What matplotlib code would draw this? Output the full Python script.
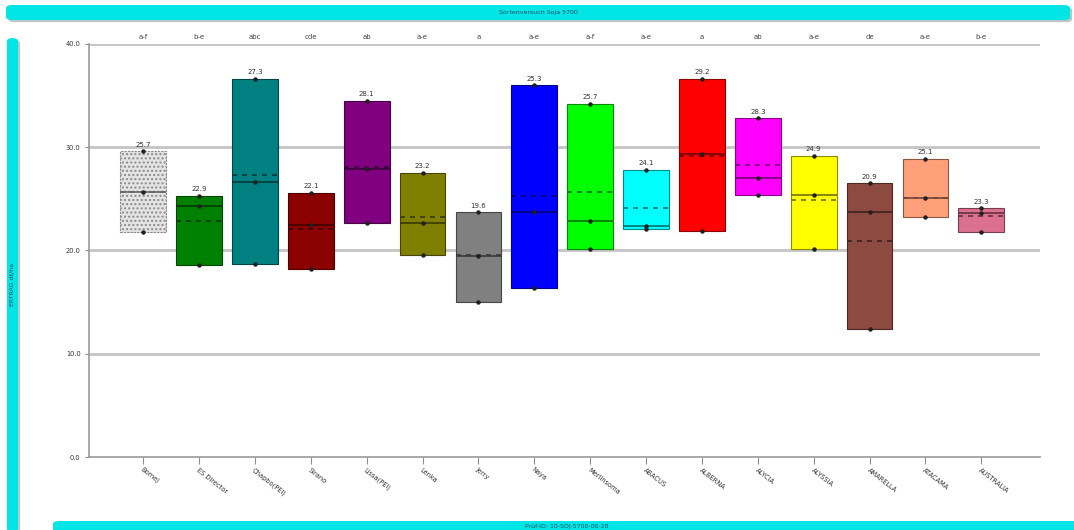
import matplotlib

matplotlib.use("Agg")
import matplotlib.pyplot as plt
import numpy as np
from matplotlib.colors import to_rgb
from matplotlib.patches import FancyBboxPatch

varieties = ["Bomej", "ES Director", "Chapbo(PEI)", "Sirano", "Lissa(PEI)", "Lenka",
             "Jerry", "Naya", "Merlinsoma", "ABACUS", "ALBERNA", "ALYCIA",
             "ALYSSIA", "AMARELLA", "ATACAMA", "AUSTRALIA"]
groups = ["a-f", "b-e", "abc", "cde", "ab", "a-e", "a", "a-e",
          "a-f", "a-e", "a", "ab", "a-e", "de", "a-e", "b-e"]
low = [21.8, 18.6, 18.7, 18.2, 22.7, 19.6, 15.0, 16.4, 20.1, 22.1, 21.9, 25.4, 20.1, 12.4, 23.2, 21.8]
high = [29.6, 25.3, 36.6, 25.6, 34.5, 27.5, 23.7, 36.0, 34.2, 27.8, 36.6, 32.8, 29.2, 26.5, 28.9, 24.1]
median = [25.7, 24.3, 26.6, 22.5, 27.9, 22.7, 19.5, 23.7, 22.9, 22.4, 29.3, 27.0, 25.4, 23.7, 25.1, 23.6]
mean = [25.7, 22.9, 27.3, 22.1, 28.1, 23.2, 19.6, 25.3, 25.7, 24.1, 29.2, 28.3, 24.9, 20.9, 25.1, 23.3]
colors = ["#e4e4e4", "#008000", "#008080", "#8b0000", "#800080", "#808000",
          "#808080", "#0000ff", "#00ff00", "#00ffff", "#ff0000", "#ff00ff",
          "#ffff00", "#8c4a40", "#ffa07a", "#dc7090"]

CYAN = "#00e6e6"

fig = plt.figure(figsize=(10.74, 5.3), dpi=100)
W, H = 1074, 530


def banner(x0, y0, x1, y1, text=None, rot=0):
    # px coords from the top-left corner
    shadow = FancyBboxPatch((x0 / W + 0.002, 1 - y1 / H - 0.004), (x1 - x0) / W, (y1 - y0) / H,
                            boxstyle="round,pad=0,rounding_size=0.006", transform=fig.transFigure,
                            facecolor="#b8c8c8", edgecolor="none", zorder=0)
    box = FancyBboxPatch((x0 / W, 1 - y1 / H), (x1 - x0) / W, (y1 - y0) / H,
                         boxstyle="round,pad=0,rounding_size=0.006", transform=fig.transFigure,
                         facecolor=CYAN, edgecolor="none", zorder=1)
    fig.patches.extend([shadow, box])
    if text:
        fig.text((x0 + x1) / 2 / W, 1 - (y0 + y1) / 2 / H, text, rotation=rot,
                 ha="center", va="center", fontsize=4.5, color="#0a5060", zorder=2)


banner(6, 5, 1070, 20, "Sortenversuch Soja 5700")
banner(7, 38, 18, 532, None)
fig.text(12.5 / W, 1 - 285 / H, "ERTRAG dt/ha", rotation=90, ha="center", va="center",
         fontsize=4.5, color="#0a5060")
banner(53, 521, 1080, 532, "Prüf-ID: 10-SOJ-5700-06-28")

ax = fig.add_axes([89 / W, 73 / H, (1040 - 89) / W, 413 / H])
x = np.arange(len(varieties))
ax.set_xlim(-0.97, 16.05)
ax.set_ylim(0, 40)

for yv in [10, 20, 30, 40]:
    ax.axhline(yv, color="#c4c4c4", lw=2, zorder=0)

heights = np.array(high) - np.array(low)
bars = ax.bar(x, heights, bottom=low, width=0.82, color=colors, zorder=2, linewidth=0.8)
for b, c in zip(bars, colors):
    b.set_edgecolor(tuple(v * 0.55 for v in to_rgb(c)))
bars[0].set_hatch("....")
bars[0].set_edgecolor("#8a8a8a")
bars[0].set_linestyle((0, (2, 1)))

for xi, c, md, mn, lo, hi in zip(x, colors, median, mean, low, high):
    dark = tuple(v * 0.45 for v in to_rgb(c))
    ax.hlines(md, xi - 0.41, xi + 0.41, color=dark, lw=1.2, zorder=3)
    ax.hlines(mn, xi - 0.41, xi + 0.41, color=dark, lw=1.2, linestyles=(0, (3, 3)), zorder=3)
    ax.plot([xi, xi, xi], [lo, hi, md], "o", ms=2.2, color="#202020", zorder=4)
    ax.text(xi, hi + 0.35, f"{mn:.1f}", ha="center", va="bottom", fontsize=5, color="#333333")

for xi, g in zip(x, groups):
    ax.text(xi, 40.4, g, ha="center", va="bottom", fontsize=5, color="#444444")

ax.set_xticks(x)
ax.set_xticklabels(varieties, rotation=-38, ha="left", rotation_mode="anchor",
                   fontsize=4.8, color="#333333")
ax.set_yticks([0, 10, 20, 30, 40])
ax.set_yticklabels(["0.0", "10.0", "20.0", "30.0", "40.0"], fontsize=4.8, color="#333333")
ax.tick_params(axis="x", length=5, color="#909090", pad=2)
ax.tick_params(axis="y", length=3, color="#909090", pad=3)

for side in ["top", "right"]:
    ax.spines[side].set_visible(False)
for side in ["left", "bottom"]:
    ax.spines[side].set_color("#9a9a9a")
    ax.spines[side].set_linewidth(1.2)

fig.savefig("out.png", dpi=100, facecolor="white")
